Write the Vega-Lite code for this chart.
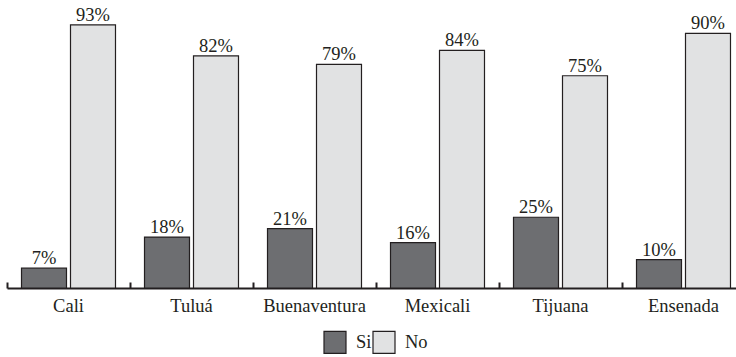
{
  "$schema": "https://vega.github.io/schema/vega-lite/v6.json",
  "autosize": "none",
  "padding": {"left": 7, "top": 5, "right": 0, "bottom": 69},
  "width": 738,
  "height": 283,
  "background": "white",
  "data": {"values": [
    {"city": "Cali", "resp": "Si", "value": 7, "label": "7%"},
    {"city": "Cali", "resp": "No", "value": 93, "label": "93%"},
    {"city": "Tuluá", "resp": "Si", "value": 18, "label": "18%"},
    {"city": "Tuluá", "resp": "No", "value": 82, "label": "82%"},
    {"city": "Buenaventura", "resp": "Si", "value": 21, "label": "21%"},
    {"city": "Buenaventura", "resp": "No", "value": 79, "label": "79%"},
    {"city": "Mexicali", "resp": "Si", "value": 16, "label": "16%"},
    {"city": "Mexicali", "resp": "No", "value": 84, "label": "84%"},
    {"city": "Tijuana", "resp": "Si", "value": 25, "label": "25%"},
    {"city": "Tijuana", "resp": "No", "value": 75, "label": "75%"},
    {"city": "Ensenada", "resp": "Si", "value": 10, "label": "10%"},
    {"city": "Ensenada", "resp": "No", "value": 90, "label": "90%"}
  ]},
  "encoding": {
    "x": {"field": "city", "type": "nominal", "sort": null,
      "scale": {"paddingInner": 0, "paddingOuter": 0},
      "axis": {"title": null, "labelAngle": 0, "labelFont": "Times New Roman", "labelFontSize": 18.5,
        "labelColor": "#231f20", "domainColor": "#231f20", "domainWidth": 2,
        "tickColor": "#231f20", "tickWidth": 2, "tickSize": -6, "bandPosition": 0,
        "labelPadding": 14, "labelBaseline": "top", "grid": false}},
    "xOffset": {"field": "resp", "type": "nominal", "sort": ["Si", "No"],
      "scale": {"paddingInner": 0.0816, "paddingOuter": 0.296}},
    "y": {"field": "value", "type": "quantitative", "scale": {"domain": [0, 100]}, "axis": null}
  },
  "layer": [
    {"mark": {"type": "bar", "stroke": "#231f20", "strokeWidth": 1.2},
     "encoding": {
       "color": {"field": "resp", "type": "nominal", "sort": ["Si", "No"],
         "scale": {"domain": ["Si", "No"], "range": ["#6d6e71", "#e1e2e3"]},
         "legend": {"title": null, "orient": "none", "legendX": 316, "legendY": 325, "direction": "horizontal",
           "symbolType": "square", "symbolSize": 484, "symbolStrokeColor": "#231f20", "symbolStrokeWidth": 1.2,
           "labelFont": "Times New Roman", "labelFontSize": 18.5, "labelColor": "#231f20",
           "columnPadding": -4, "labelOffset": 9}}}},
    {"mark": {"type": "text", "dy": -10, "font": "Times New Roman", "fontSize": 18.5, "color": "#231f20"},
     "encoding": {"text": {"field": "label", "type": "nominal"}}}
  ],
  "config": {"view": {"stroke": null}}
}
